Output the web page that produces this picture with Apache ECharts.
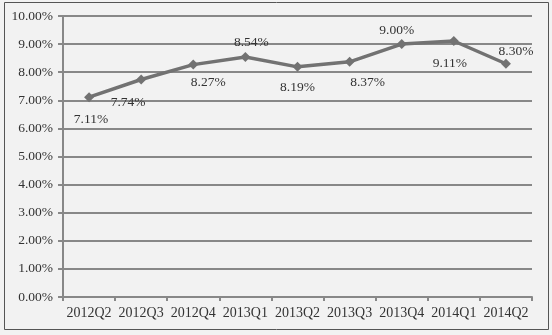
<!DOCTYPE html>
<html><head><meta charset="utf-8">
<script src="https://cdn.jsdelivr.net/npm/echarts@6/dist/echarts.min.js"></script>
<style>html,body{margin:0;padding:0;background:#f2f2f2;}#c{width:552px;height:335px;}</style>
</head><body><div id="c"></div>
<script>
const categories = ['2012Q2','2012Q3','2012Q4','2013Q1','2013Q2','2013Q3','2013Q4','2014Q1','2014Q2'];
const values = [7.11, 7.74, 8.27, 8.54, 8.19, 8.37, 9.00, 9.11, 8.30];

// label placement (style only): offset from each point
const labelOffsets = [[2,22],[-13,23],[15,18],[6,-15],[0,21],[18,21],[-5,-14],[-4,22],[10,-12]];

const font = 'Liberation Serif';
const chart = echarts.init(document.getElementById('c'), null, {renderer:'canvas'});
chart.setOption({
  backgroundColor:'#f2f2f2',
  animation:false,
  graphic:[{type:'rect', shape:{x:4.5,y:2.5,width:544,height:327}, style:{fill:'none', stroke:'#555', lineWidth:1}, silent:true}],
  grid:{left:63, right:20, top:16, bottom:38},
  xAxis:{type:'category', data:categories, boundaryGap:true,
    axisLine:{lineStyle:{color:'#888', width:2}},
    axisTick:{show:true, length:4, lineStyle:{color:'#888', width:2}},
    axisLabel:{color:'#333', fontFamily:font, fontSize:14, margin:9, interval:0}},
  yAxis:{type:'value', min:0, max:10, interval:1,
    axisLine:{show:true, lineStyle:{color:'#888', width:2}},
    axisTick:{show:true, length:5, lineStyle:{color:'#888', width:2}},
    splitLine:{lineStyle:{color:'#888', width:2}},
    axisLabel:{color:'#333', fontFamily:font, fontSize:13.5, margin:10,
      formatter:v=>v.toFixed(2)+'%'}},
  series:[{type:'line', data:values.map((v,i)=>({value:v, label:{offset:labelOffsets[i]}})),
    symbol:'diamond', symbolSize:10,
    lineStyle:{color:'#727272', width:3.5},
    itemStyle:{color:'#727272'},
    label:{show:true, position:'inside', fontFamily:font, fontSize:13.5, color:'#333',
      formatter:p=>p.value.toFixed(2)+'%'}}]
});
</script></body></html>
